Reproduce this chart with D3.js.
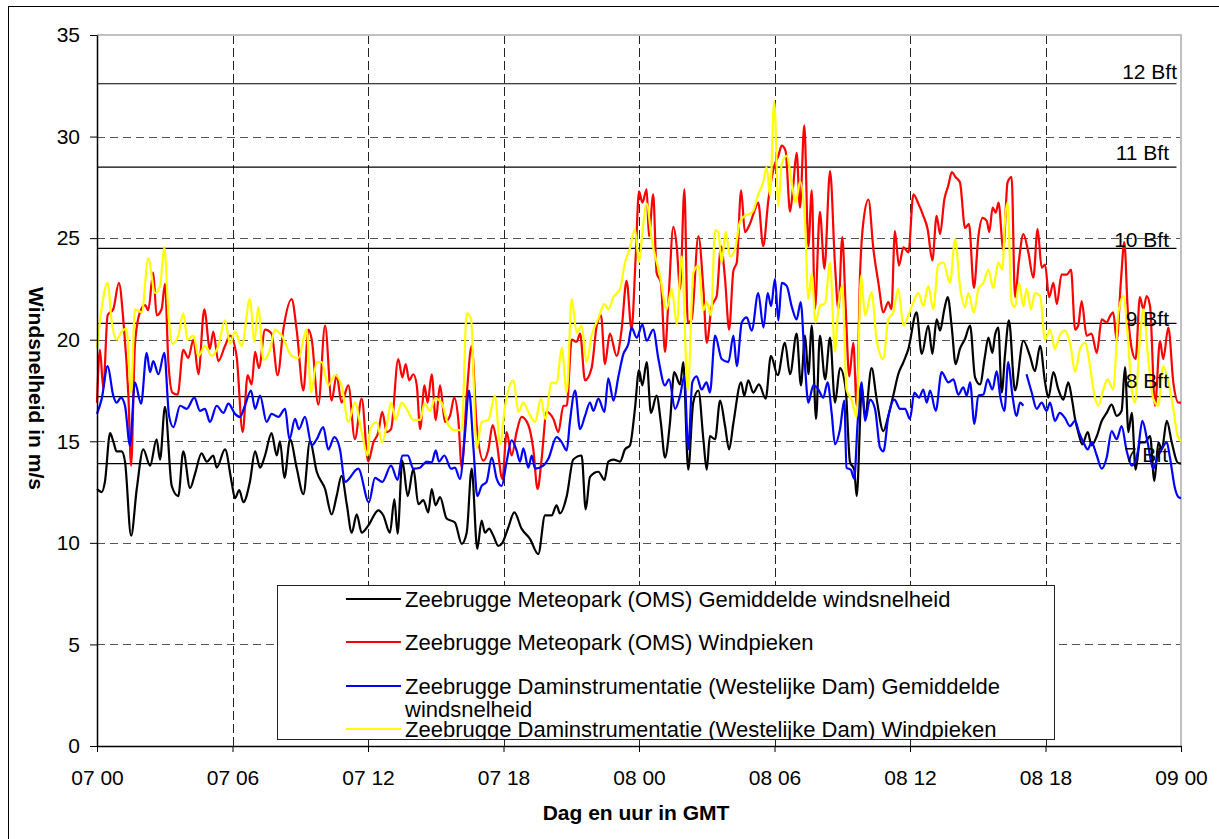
<!DOCTYPE html>
<html>
<head>
<meta charset="utf-8">
<script src="https://cdn.jsdelivr.net/npm/d3@7"></script>
<style>
  html, body { margin: 0; padding: 0; background: #fff; overflow: hidden; }
  svg { display: block; font-family: "Liberation Sans", Arial, sans-serif; }
</style>
</head>
<body>
<svg id="chart" width="1219" height="839"></svg>
<script>
// hours after 07 00 GMT, wind speed in m/s
const xTickHours = [0, 6, 12, 18, 24, 30, 36, 42, 48];
const xTickLabels = ["07 00", "07 06", "07 12", "07 18", "08 00", "08 06", "08 12", "08 18", "09 00"];
const yTicks = [0, 5, 10, 15, 20, 25, 30, 35];

const bftValues = [13.9, 17.2, 20.8, 24.5, 28.5, 32.6];
const bftLabels = ["7 Bft", "8 Bft", "9 Bft", "10 Bft", "11 Bft", "12 Bft"];

const legendLabels = [
  ["Zeebrugge Meteopark (OMS) Gemiddelde windsnelheid"],
  ["Zeebrugge Meteopark (OMS) Windpieken"],
  ["Zeebrugge Daminstrumentatie (Westelijke Dam) Gemiddelde", "windsnelheid"],
  ["Zeebrugge Daminstrumentatie (Westelijke Dam) Windpieken"]
];

const omsMean = [[0,12.65],[0.21,12.5],[0.35,13.0],[0.58,15.4],[0.72,15.0],[0.87,14.5],[1.09,14.5],[1.24,14.0],[1.51,10.35],[1.76,12.65],[2.05,14.6],[2.35,13.8],[2.64,15.1],[2.79,14.1],[3.01,16.7],[3.31,12.8],[3.6,12.3],[3.82,14.5],[4.12,12.7],[4.34,13.4],[4.63,14.4],[4.86,14.0],[5.15,14.3],[5.3,13.7],[5.67,14.6],[5.96,13.0],[6.11,12.2],[6.3,12.6],[6.48,12.0],[6.77,13.0],[7.0,14.5],[7.22,13.7],[7.44,14.3],[7.73,15.4],[7.96,14.3],[8.1,15.0],[8.3,13.2],[8.55,15.1],[8.84,13.7],[9.14,12.4],[9.43,15.0],[9.73,13.5],[10.1,12.65],[10.39,11.4],[10.61,12.3],[10.83,13.3],[11.06,11.9],[11.28,10.5],[11.5,11.4],[11.72,10.5],[12.01,10.85],
  [12.46,11.6],[12.68,11.35],[12.97,10.5],[13.17,12.15],[13.31,10.45],[13.52,14.05],[13.76,12.3],[14.01,13.65],[14.23,11.9],[14.45,12.1],[14.67,11.5],[14.82,12.65],[14.99,11.85],[15.19,12.25],[15.48,11.2],[15.85,11.0],[16.15,9.95],[16.37,10.5],[16.59,13.65],[16.84,9.7],[17.03,11.1],[17.18,10.5],[17.36,10.7],[17.55,10.35],[17.77,9.85],[17.95,10.0],[18.21,10.75],[18.48,11.5],[18.8,10.7],[19.17,10.2],[19.54,9.45],[19.84,11.35],[20.13,11.35],[20.35,11.85],[20.5,11.45],[20.8,12.3],[21.09,14.1],[21.46,14.3],[21.64,11.65],[21.83,13.25],[22.2,13.5],[22.47,13.1],[22.64,14.0],[22.87,14.1],[23.16,14.0],[23.38,14.6],[23.6,14.8],[23.82,16.6],[24.0,18.5],[24.15,17.75],
  [24.34,18.9],[24.53,16.4],[24.78,17.25],[24.97,15.9],[25.15,14.2],[25.37,15.9],[25.56,18.4],[25.82,17.8],[25.96,18.9],[26.18,13.6],[26.4,16.9],[26.63,17.5],[26.85,15.1],[27.0,13.6],[27.14,15.25],[27.37,15.1],[27.59,17.0],[27.81,15.75],[27.99,14.6],[28.18,15.9],[28.52,17.9],[28.66,17.25],[28.84,18.0],[29.06,17.4],[29.31,17.8],[29.61,17.1],[29.84,19.2],[30.14,18.25],[30.46,19.85],[30.69,18.3],[30.98,20.3],[31.17,17.75],[31.35,20.2],[31.5,18.3],[31.65,20.7],[31.84,16.1],[32.01,20.2],[32.24,18.05],[32.46,20.1],[32.68,16.9],[32.9,18.6],[33.15,17.6],[33.34,14.0],[33.53,13.6],[33.64,12.3],[33.87,17.6],[34.01,16.25],[34.3,18.6],[34.52,17.1],[34.82,15.5],[35.04,16.25],[35.26,17.25],[35.48,18.3],[35.71,18.9],[35.93,19.55],
  [36.29,21.35],[36.52,19.3],[36.81,20.7],[36.99,19.3],[37.18,21.0],[37.33,20.45],[37.52,21.5],[37.67,22.1],[37.85,20.6],[38.02,18.8],[38.21,19.55],[38.44,20.05],[38.66,20.7],[38.88,18.15],[39.1,17.8],[39.32,19.2],[39.47,20.1],[39.65,19.35],[39.76,20.2],[39.91,20.6],[40.06,17.4],[40.21,19.3],[40.38,20.95],[40.65,17.5],[41.02,19.95],[41.31,19.2],[41.53,18.45],[41.76,19.7],[41.98,17.9],[42.13,17.15],[42.35,18.4],[42.57,17.55],[42.79,17.05],[43.01,17.9],[43.16,17.15],[43.31,16.1],[43.45,15.45],[43.63,14.85],[43.87,15.45],[44.04,14.8],[44.27,15.25],[44.49,16.0],[44.71,16.4],[44.93,16.8],[45.15,16.25],[45.37,16.5],[45.52,18.65],[45.67,15.45],[45.82,16.4],[45.99,13.6],[46.18,14.95],[46.4,14.95],[46.63,15.25],[46.82,13.05],[47.0,14.95],[47.15,14.6],[47.37,16.0],[47.59,14.95],[47.85,13.95],[48,13.9]];

const omsPeak = [[0,16.9],[0.13,19.5],[0.28,17.6],[0.47,21.2],[0.72,21.5],[0.97,22.8],[1.17,20.9],[1.39,17.25],[1.51,13.8],[1.68,19.75],[1.9,21.35],[2.13,21.7],[2.27,21.45],[2.49,23.3],[2.64,21.2],[2.86,21.5],[3.01,22.75],[3.16,18.9],[3.34,17.4],[3.57,17.3],[3.82,19.5],[4.04,19.1],[4.27,20.0],[4.49,18.3],[4.75,21.5],[5.0,19.55],[5.15,20.4],[5.37,18.95],[5.67,19.7],[5.89,20.2],[6.18,19.2],[6.45,15.45],[6.67,18.25],[6.85,17.8],[7.0,19.4],[7.17,18.6],[7.44,20.5],[7.73,20.3],[8.0,18.25],[8.25,20.5],[8.62,22.0],[8.84,20.5],[9.14,17.5],[9.36,20.5],[9.51,20.0],[9.8,16.8],[10.1,20.7],[10.39,17.0],[10.61,18.25],[10.83,16.9],[11.13,17.75],[11.42,15.1],[11.72,17.1],[12.01,14.0],
  [12.24,14.95],[12.46,15.45],[12.63,16.45],[12.83,15.45],[13.02,15.6],[13.34,19.05],[13.52,18.15],[13.67,18.8],[13.82,18.0],[14.01,18.3],[14.16,17.75],[14.31,15.6],[14.5,17.75],[14.64,16.9],[14.82,18.3],[15.0,16.05],[15.19,17.75],[15.41,15.95],[15.63,16.25],[15.82,17.15],[16.0,16.05],[16.15,13.7],[16.37,17.25],[16.59,19.7],[16.81,15.8],[17.11,14.05],[17.33,14.6],[17.52,15.8],[17.7,14.95],[17.95,13.15],[18.14,15.45],[18.36,14.3],[18.58,15.45],[18.8,16.2],[19.1,15.8],[19.32,14.6],[19.51,12.65],[19.69,14.15],[19.91,16.45],[20.21,16.1],[20.43,15.45],[20.65,16.75],[20.8,16.75],[21.02,20.0],[21.24,19.9],[21.39,20.3],[21.61,18.0],[21.9,18.6],[22.13,20.7],[22.32,21.2],[22.49,18.8],[22.71,20.3],[23.01,19.2],[23.23,20.5],[23.45,22.9],[23.67,20.5],[23.85,24.0],
  [24.0,27.3],[24.15,26.75],[24.34,27.4],[24.44,25.1],[24.63,27.15],[24.78,23.3],[24.97,22.8],[25.15,19.4],[25.3,21.85],[25.52,25.55],[25.67,24.6],[25.82,22.5],[26.01,27.4],[26.16,20.85],[26.33,21.0],[26.63,25.1],[26.85,22.5],[27.0,19.85],[27.22,21.65],[27.44,22.15],[27.63,24.6],[27.81,23.0],[27.99,20.5],[28.18,23.4],[28.33,23.8],[28.52,27.35],[28.69,25.3],[28.91,25.7],[29.1,26.3],[29.28,26.75],[29.5,24.6],[29.73,26.9],[29.99,28.55],[30.17,29.05],[30.32,29.55],[30.49,29.3],[30.69,26.3],[30.83,27.6],[30.98,29.2],[31.13,26.5],[31.32,30.55],[31.5,24.6],[31.65,27.35],[31.79,21.5],[32.01,26.3],[32.21,23.5],[32.46,28.3],[32.68,23.65],[32.83,21.5],[33.0,25.05],[33.15,21.65],[33.31,18.2],[33.49,19.85],[33.64,16.75],[33.79,23.3],[33.93,25.75],[34.16,26.9],[34.38,24.45],[34.6,22.8],[34.82,21.35],[35.04,21.85],[35.18,21.5],[35.33,25.35],[35.51,23.65],[35.71,24.55],[35.93,24.3],
  [36.15,27.15],[36.37,26.7],[36.59,26.1],[36.78,25.45],[36.99,23.9],[37.18,26.1],[37.33,25.2],[37.52,26.9],[37.7,27.6],[37.85,28.25],[38.02,28.0],[38.21,27.75],[38.44,25.5],[38.61,25.7],[38.83,22.55],[39.03,25.1],[39.22,26.0],[39.4,25.85],[39.51,25.3],[39.66,26.5],[39.8,26.25],[39.92,26.75],[40.13,24.45],[40.32,27.75],[40.5,28.0],[40.65,22.1],[40.83,23.95],[41.02,25.2],[41.24,24.3],[41.46,23.05],[41.65,25.45],[41.83,23.55],[41.98,23.7],[42.16,22.1],[42.35,22.8],[42.5,21.75],[42.71,23.2],[42.94,23.2],[43.13,23.45],[43.31,20.5],[43.45,20.7],[43.6,21.9],[43.82,20.2],[44.04,20.3],[44.27,19.35],[44.49,21.0],[44.71,20.85],[44.85,21.15],[45.0,21.35],[45.15,19.95],[45.34,22.9],[45.49,24.8],[45.64,21.5],[45.82,19.55],[45.99,19.05],[46.18,22.1],[46.33,21.5],[46.48,22.15],[46.63,21.65],[46.85,16.75],[47.07,19.95],[47.21,19.05],[47.44,20.6],[47.66,17.9],[47.89,16.9],[48,16.9]];

const damMean = [[0,16.35],[0.21,17.1],[0.47,18.7],[0.72,17.25],[0.87,16.9],[1.06,17.15],[1.24,16.75],[1.46,14.8],[1.68,17.9],[1.95,16.85],[2.2,19.35],[2.35,18.4],[2.49,18.95],[2.72,18.3],[2.98,19.35],[3.19,16.25],[3.38,15.7],[3.68,16.75],[3.97,16.6],[4.31,17.15],[4.56,16.5],[4.78,16.6],[5.0,15.95],[5.3,16.75],[5.59,16.4],[5.82,16.85],[6.11,16.35],[6.33,16.2],[6.55,16.75],[6.82,17.5],[7.0,16.6],[7.22,17.25],[7.51,15.95],[7.73,16.35],[8.03,16.2],[8.33,16.6],[8.52,15.1],[8.77,16.1],[8.94,15.6],[9.21,16.2],[9.51,14.8],[9.73,15.1],[10.02,15.7],[10.24,14.6],[10.51,15.2],[10.76,14.6],[10.98,13.0],[11.57,13.65],
  [12.04,12.0],[12.31,13.2],[12.63,13.0],[13.02,13.8],[13.31,13.1],[13.52,14.3],[13.76,14.3],[14.01,13.65],[14.3,13.7],[14.6,14.0],[14.82,13.95],[15.0,14.55],[15.14,14.0],[15.38,14.3],[15.68,13.65],[15.85,13.7],[16.07,13.15],[16.29,15.3],[16.47,17.5],[16.67,14.65],[16.84,12.3],[17.03,12.8],[17.25,13.0],[17.48,14.2],[17.7,13.15],[17.92,12.8],[18.14,14.0],[18.36,15.05],[18.58,14.55],[18.73,14.0],[18.88,14.65],[19.1,13.7],[19.25,14.3],[19.4,13.65],[19.76,13.8],[19.99,14.15],[20.35,15.2],[20.58,14.95],[20.8,14.55],[20.94,15.95],[21.17,17.5],[21.39,15.6],[21.61,16.25],[21.83,16.9],[21.98,16.5],[22.2,17.1],[22.47,16.45],[22.64,18.1],[22.87,17.0],[23.09,18.2],[23.31,19.3],[23.53,19.8],[23.67,20.6],[23.9,20.1],
  [24.15,20.75],[24.34,19.95],[24.63,20.5],[24.86,19.05],[25.15,17.75],[25.33,18.05],[25.6,16.6],[25.82,17.25],[26.01,18.2],[26.18,14.6],[26.36,17.9],[26.55,18.2],[26.77,17.55],[26.99,17.9],[27.14,17.4],[27.37,20.2],[27.66,19.05],[27.96,18.9],[28.18,20.2],[28.33,18.7],[28.55,20.85],[28.77,21.1],[28.99,20.45],[29.28,22.3],[29.51,20.6],[29.7,22.3],[29.85,21.65],[30.02,23.0],[30.17,20.95],[30.32,22.8],[30.54,22.65],[30.76,21.65],[30.98,21.0],[31.16,21.85],[31.35,18.7],[31.5,16.9],[31.72,17.75],[31.94,17.55],[32.16,17.15],[32.35,17.9],[32.53,16.4],[32.68,14.85],[32.9,15.6],[33.09,17.0],[33.19,13.7],[33.38,13.6],[33.53,13.15],[33.68,15.9],[33.86,17.9],[34.01,16.0],[34.23,17.05],[34.45,16.6],[34.67,14.7],[34.82,14.5],[35.04,16.2],[35.31,17.05],[35.56,16.6],[35.78,16.6],[36.0,16.1],[36.19,17.4],
  [36.4,17.15],[36.59,17.55],[36.74,16.9],[36.89,17.5],[37.14,16.5],[37.4,18.4],[37.7,17.9],[37.92,18.05],[38.14,17.3],[38.36,17.65],[38.51,17.25],[38.66,17.9],[38.85,15.85],[39.03,17.25],[39.25,17.3],[39.44,18.05],[39.65,17.55],[39.84,18.45],[39.99,17.25],[40.18,16.5],[40.35,18.9],[40.53,17.3],[40.72,16.25],[40.87,16.9],[41.02,16.75],[41.09,null],[41.16,18.3],[41.39,17.4],[41.61,16.6],[41.83,16.9],[42.05,16.5],[42.2,16.9],[42.42,16.0],[42.63,16.4],[42.86,16.15],[43.08,15.75],[43.31,16.0],[43.48,15.45],[43.68,14.95],[43.87,14.6],[44.04,14.95],[44.27,14.3],[44.49,13.65],[44.71,14.2],[44.93,15.5],[45.15,15.1],[45.37,15.75],[45.59,14.55],[45.82,13.8],[46.08,14.45],[46.29,16.0],[46.52,14.95],[46.77,13.65],[46.96,14.2],[47.14,14.6],[47.37,14.95],[47.51,14.2],[47.74,12.65],[47.89,12.25],[48,12.2]];

const damPeak = [[0,19.6],[0.18,21.35],[0.47,22.8],[0.65,20.9],[0.87,20.0],[1.09,20.4],[1.31,20.55],[1.51,17.4],[1.68,21.5],[1.98,21.35],[2.27,24.0],[2.57,22.3],[2.79,22.65],[2.98,24.55],[3.16,21.35],[3.34,19.8],[3.6,20.2],[3.82,21.3],[4.01,20.0],[4.27,20.2],[4.49,19.2],[4.78,19.7],[5.08,19.2],[5.37,19.7],[5.67,20.95],[5.89,19.8],[6.11,20.4],[6.41,19.7],[6.77,22.0],[6.97,19.9],[7.14,21.6],[7.37,19.0],[7.66,19.5],[7.88,20.5],[8.18,20.2],[8.62,19.2],[8.92,19.1],[9.28,20.5],[9.48,17.4],[9.73,18.9],[9.95,18.9],[10.24,17.75],[10.54,18.25],[10.83,17.75],[11.13,15.95],[11.42,16.9],[11.72,15.45],[11.99,14.3],
  [12.09,15.6],[12.38,15.95],[12.63,14.95],[12.83,15.8],[13.02,16.9],[13.22,16.05],[13.49,16.9],[13.71,16.6],[14.01,16.05],[14.31,16.05],[14.5,16.85],[14.75,16.5],[14.97,17.1],[15.26,16.9],[15.56,15.8],[15.85,15.55],[16.15,15.55],[16.37,21.3],[16.56,21.05],[16.81,14.65],[17.03,15.95],[17.33,16.05],[17.62,17.25],[17.85,14.85],[18.07,16.75],[18.44,18.0],[18.66,16.45],[18.88,16.9],[19.1,16.45],[19.4,15.95],[19.66,17.1],[19.84,16.1],[20.13,17.9],[20.35,17.85],[20.58,19.6],[20.8,17.4],[21.02,22.0],[21.24,20.35],[21.46,20.7],[21.68,18.9],[21.9,20.2],[22.2,21.05],[22.47,21.75],[22.64,21.5],[22.87,22.1],[23.16,22.5],[23.38,23.8],[23.6,24.5],
  [23.82,25.45],[24.0,23.8],[24.15,25.3],[24.34,26.7],[24.56,24.95],[24.93,23.15],[25.22,21.5],[25.45,22.5],[25.67,20.75],[25.89,24.1],[26.16,17.5],[26.41,23.3],[26.63,23.65],[26.85,21.45],[27.0,21.85],[27.19,21.2],[27.37,25.4],[27.51,25.3],[27.66,23.8],[27.84,25.3],[28.03,24.1],[28.25,24.45],[28.47,25.8],[28.69,26.1],[28.91,26.2],[29.06,26.35],[29.28,27.15],[29.5,27.75],[29.65,28.5],[29.8,27.1],[29.99,31.75],[30.17,26.6],[30.32,28.65],[30.54,29.05],[30.76,27.75],[30.94,26.75],[31.13,27.8],[31.35,25.8],[31.5,22.0],[31.65,23.25],[31.82,20.85],[32.01,21.65],[32.24,21.8],[32.46,23.8],[32.68,19.4],[32.83,21.65],[33.0,22.65],[33.19,17.55],[33.41,17.05],[33.64,16.2],[33.83,23.15],[34.01,21.2],[34.3,22.35],[34.52,20.0],[34.82,19.05],[35.04,21.0],[35.26,21.35],[35.48,22.5],[35.71,20.7],[35.93,21.2],[36.15,21.85],
  [36.37,22.3],[36.59,21.65],[36.81,22.65],[37.03,21.5],[37.25,23.7],[37.48,23.8],[37.77,22.8],[38.0,24.95],[38.21,22.65],[38.44,21.6],[38.58,22.3],[38.83,21.35],[39.03,22.5],[39.25,22.8],[39.47,23.45],[39.69,22.55],[39.91,23.8],[40.09,23.45],[40.21,25.95],[40.32,26.75],[40.5,21.85],[40.65,21.6],[40.83,22.8],[41.02,21.65],[41.16,22.5],[41.36,21.5],[41.53,22.3],[41.76,22.15],[41.98,20.0],[42.2,20.5],[42.42,19.55],[42.63,20.2],[42.86,20.45],[43.11,19.7],[43.31,18.4],[43.53,19.55],[43.75,19.85],[43.97,18.7],[44.12,17.55],[44.34,16.75],[44.56,17.55],[44.75,18.05],[45.0,17.55],[45.23,21.35],[45.45,22.15],[45.64,20.2],[45.82,17.55],[45.96,16.9],[46.18,20.0],[46.33,21.5],[46.55,19.05],[46.77,17.1],[46.99,16.75],[47.21,18.7],[47.44,17.9],[47.66,16.6],[47.85,15.25],[48,15.0]];

const seriesData = [omsMean, omsPeak, damMean, damPeak];
const seriesColors = ["#000000", "#ff0000", "#0000ff", "#ffff00"];

// layout
const PLOT = { left: 97, top: 35, right: 1181, bottom: 746 };
const FONT = 21;
const LEGEND_FONT = 22;
// Bft label placement: [right end x, baseline offset from its line]
const BFT_LABEL_POS = [[1168, -1.5], [1169, -9], [1169, 2.5], [1169, -1.5], [1169, -7.5], [1177, -4.5]];

const svg = d3.select("#chart");

const x = d3.scaleLinear().domain([0, 48]).range([PLOT.left, PLOT.right]);
const y = d3.scaleLinear().domain([0, 35]).range([PLOT.bottom, PLOT.top]);

// outer chart border
svg.append("rect")
  .attr("x", 8.5).attr("y", 6.5)
  .attr("width", 1240).attr("height", 860)
  .attr("fill", "#fff").attr("stroke", "#000").attr("stroke-width", 1);

// gridlines
const grid = svg.append("g");
grid.selectAll("line.hgrid")
  .data(yTicks.filter(v => v > 0 && v < 35))
  .enter().append("line")
  .attr("class", "hgrid")
  .attr("x1", PLOT.left).attr("x2", PLOT.right)
  .attr("y1", d => Math.round(y(d)) + 0.5).attr("y2", d => Math.round(y(d)) + 0.5)
  .attr("stroke", "#555").attr("stroke-width", 1)
  .attr("stroke-dasharray", "8,5");

grid.selectAll("line.vgrid")
  .data(xTickHours.filter(h => h > 0 && h < 48))
  .enter().append("line")
  .attr("class", "vgrid")
  .attr("x1", d => Math.round(x(d)) + 0.5).attr("x2", d => Math.round(x(d)) + 0.5)
  .attr("y1", PLOT.top).attr("y2", PLOT.bottom)
  .attr("stroke", "#222").attr("stroke-width", 1)
  .attr("stroke-dasharray", "9,4");

// plot border top/right (light grey)
svg.append("path")
  .attr("d", `M${PLOT.left},${PLOT.top}H${PLOT.right}V${PLOT.bottom}`)
  .attr("fill", "none").attr("stroke", "#c0c0c0").attr("stroke-width", 2);

// Beaufort lines
svg.append("g").selectAll("line")
  .data(bftValues)
  .enter().append("line")
  .attr("x1", x(0)).attr("x2", x(47.8))
  .attr("y1", d => y(d)).attr("y2", d => y(d))
  .attr("stroke", "#000").attr("stroke-width", 1.2);

// series
const line = d3.line()
  .defined(d => d[1] != null)
  .x(d => x(d[0]))
  .y(d => y(d[1]))
  .curve(d3.curveMonotoneX);

svg.append("g").selectAll("path")
  .data(seriesData)
  .enter().append("path")
  .attr("d", d => line(d))
  .attr("fill", "none")
  .attr("stroke", (d, i) => seriesColors[i])
  .attr("stroke-width", 2.2)
  .attr("stroke-linejoin", "round");

// Bft labels
svg.append("g").selectAll("text")
  .data(bftLabels)
  .enter().append("text")
  .attr("x", (d, i) => BFT_LABEL_POS[i][0])
  .attr("y", (d, i) => y(bftValues[i]) + BFT_LABEL_POS[i][1])
  .attr("text-anchor", "end")
  .attr("font-size", FONT)
  .attr("fill", "#000")
  .text(d => d);

// axes
const yAxis = d3.axisLeft(y)
  .tickValues(yTicks)
  .tickSize(7)
  .tickSizeOuter(0)
  .tickPadding(10);

const gy = svg.append("g")
  .attr("transform", `translate(${PLOT.left},0)`)
  .call(yAxis);

const xAxis = d3.axisBottom(x)
  .tickValues(xTickHours)
  .tickFormat((d, i) => xTickLabels[i])
  .tickSize(6)
  .tickSizeOuter(0)
  .tickPadding(18);

const gx = svg.append("g")
  .attr("transform", `translate(0,${PLOT.bottom})`)
  .call(xAxis);

[gx, gy].forEach(g => {
  g.select(".domain").attr("stroke", "#000").attr("stroke-width", 1.5);
  g.selectAll(".tick line").attr("stroke", "#000");
  g.selectAll(".tick text")
    .attr("font-size", FONT)
    .attr("font-family", "'Liberation Sans', Arial, sans-serif")
    .attr("fill", "#000");
});

// axis titles
svg.append("text")
  .attr("x", (PLOT.left + PLOT.right) / 2 - 3)
  .attr("y", 820)
  .attr("text-anchor", "middle")
  .attr("font-size", FONT)
  .attr("font-weight", "bold")
  .text("Dag en uur in GMT");

svg.append("text")
  .attr("transform", `translate(29,${(PLOT.top + PLOT.bottom) / 2 - 2}) rotate(90)`)
  .attr("text-anchor", "middle")
  .attr("font-size", FONT)
  .attr("font-weight", "bold")
  .text("Windsnelheid in m/s");

// legend
const LEG = { x: 277.5, y: 585.5, w: 777, h: 154 };
const legend = svg.append("g");
legend.append("clipPath").attr("id", "legclip")
  .append("rect").attr("x", LEG.x).attr("y", LEG.y).attr("width", LEG.w).attr("height", LEG.h);
legend.append("rect")
  .attr("x", LEG.x).attr("y", LEG.y).attr("width", LEG.w).attr("height", LEG.h)
  .attr("fill", "#fff").attr("stroke", "#222").attr("stroke-width", 1);

const rowY = [599, 642, 686, 729];
const items = legend.append("g").attr("clip-path", "url(#legclip)")
  .selectAll("g")
  .data(legendLabels)
  .enter().append("g")
  .attr("transform", (d, i) => `translate(0,${rowY[i]})`);

items.append("line")
  .attr("x1", 346).attr("x2", 401)
  .attr("stroke", (d, i) => seriesColors[i])
  .attr("stroke-width", 2.2);

items.each(function(lines) {
  const t = d3.select(this).append("text")
    .attr("x", 405)
    .attr("font-size", LEGEND_FONT)
    .attr("fill", "#000");
  lines.forEach((s, k) => {
    t.append("tspan")
      .attr("x", 405)
      .attr("y", k * 23)
      .attr("dy", "0.35em")
      .text(s);
  });
});
</script>
</body>
</html>
